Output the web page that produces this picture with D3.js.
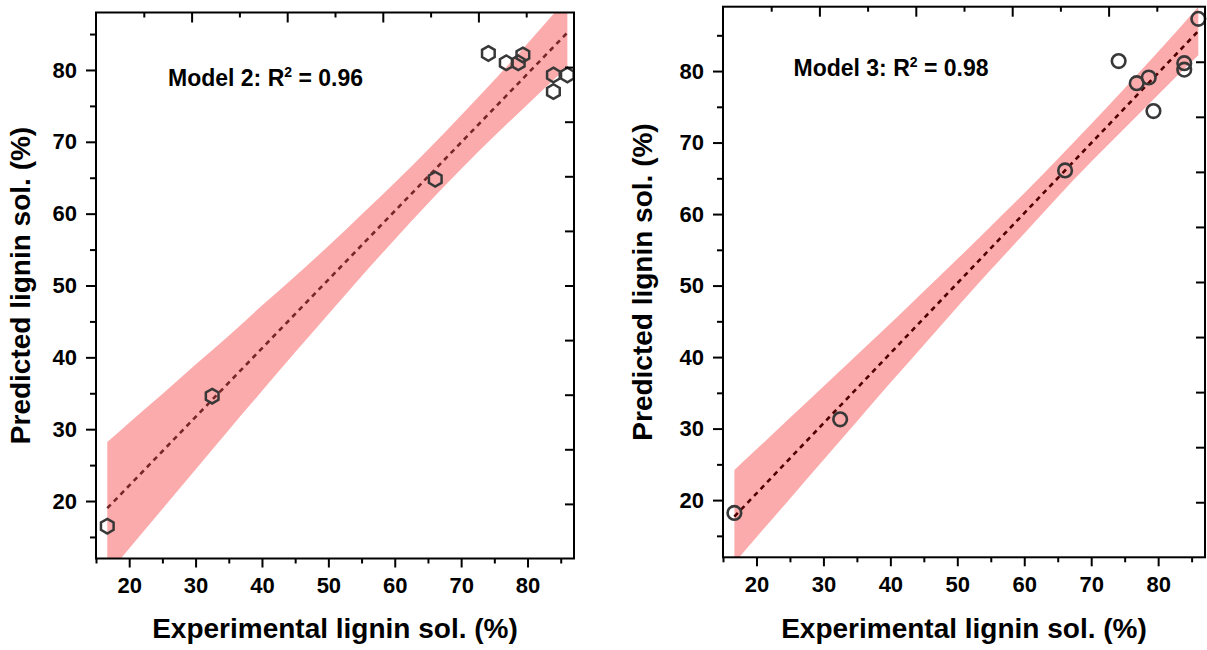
<!DOCTYPE html>
<html>
<head>
<meta charset="utf-8">
<script src="https://cdn.jsdelivr.net/npm/d3@7"></script>
<style>
  html, body { margin: 0; padding: 0; background: #fff; }
  svg { display: block; font-family: "Liberation Sans", Arial, sans-serif; font-weight: bold; }
</style>
</head>
<body>
<svg id="chart" width="1207" height="650"></svg>
<script>
// Experimental vs. predicted lignin solubilisation (%) for two models
const expX       = [16.7, 32.5, 66.1, 74.1, 76.8, 78.6, 79.3, 83.9, 83.9, 86.0];
const model2Pred = [16.5, 34.6, 64.8, 82.3, 81.0, 81.0, 82.1, 79.3, 77.0, 79.3];
const model3Pred = [18.2, 31.3, 66.1, 81.4, 78.3, 79.1, 74.4, 81.1, 80.2, 87.3];

// Linear fit lines (end points)
const fitX      = [16.7, 86.0];
const model2Fit = [19.0, 85.2];
const model3Fit = [17.7, 85.6];

// 95% confidence bands of the fits
const bandX       = [16.7, 20, 25, 30, 35, 40, 45, 50, 55, 60, 65, 70, 75, 80, 86.0];
const model2Lower = [9.7, 13.4, 18.9, 24.4, 29.9, 35.3, 40.7, 46.0, 51.3, 56.4, 61.4, 66.2, 70.8, 75.2, 80.4];
const model2Upper = [28.2, 30.9, 34.9, 39.0, 43.0, 47.2, 51.3, 55.5, 59.9, 64.3, 68.9, 73.7, 78.6, 83.7, 90.0];
const model3Lower = [11.2, 14.8, 20.2, 25.6, 31.0, 36.4, 41.7, 47.0, 52.2, 57.3, 62.4, 67.3, 72.0, 76.7, 82.2];
const model3Upper = [24.2, 27.1, 31.5, 35.9, 40.3, 44.7, 49.2, 53.7, 58.3, 62.9, 67.7, 72.6, 77.6, 82.7, 89.0];

// Axis ticks and labels
const xMajor = [20, 30, 40, 50, 60, 70, 80];
const xMinor = [15, 25, 35, 45, 55, 65, 75, 85];
const yMajor = [20, 30, 40, 50, 60, 70, 80];
const yMinor = [15, 25, 35, 45, 55, 65, 75, 85];
const xTitle = "Experimental lignin sol. (%)";
const yTitle = "Predicted lignin sol. (%)";

const svg = d3.select("#chart");

const panels = [
  { id: "m2", left: 96, right: 574, top: 12.5, bottom: 558.5,
    xDom: [15, 87], yDom: [12, 88],
    pred: model2Pred, fit: model2Fit, lower: model2Lower, upper: model2Upper,
    marker: "hex", lineColor: "#3a3a3a",
    label: "Model 2: R", r2: "0.96", labelX: 168, labelY: 86,
    yTitleX: 30 },
  { id: "m3", left: 723, right: 1205, top: 6.7, bottom: 557.3,
    xDom: [15, 87], yDom: [12, 89],
    pred: model3Pred, fit: model3Fit, lower: model3Lower, upper: model3Upper,
    marker: "circle", lineColor: "#000000",
    label: "Model 3: R", r2: "0.98", labelX: 793.5, labelY: 76,
    yTitleX: 652 }
];

function hexPath(r) {
  // pointy-top hexagon
  const pts = d3.range(6).map(i => {
    const a = Math.PI / 180 * (60 * i - 90);
    return [r * Math.cos(a), r * Math.sin(a)];
  });
  return "M" + pts.map(p => p.join(",")).join("L") + "Z";
}

panels.forEach(p => {
  const x = d3.scaleLinear().domain(p.xDom).range([p.left, p.right]);
  const y = d3.scaleLinear().domain(p.yDom).range([p.bottom, p.top]);
  const g = svg.append("g");

  svg.append("clipPath").attr("id", "clip-" + p.id)
    .append("rect")
    .attr("x", p.left).attr("y", p.top)
    .attr("width", p.right - p.left).attr("height", p.bottom - p.top);

  const plot = g.append("g").attr("clip-path", `url(#clip-${p.id})`);

  // markers
  const pts = expX.map((v, i) => [v, p.pred[i]]);
  if (p.marker === "hex") {
    g.append("g").selectAll("path").data(pts).join("path")
      .attr("d", hexPath(7.3))
      .attr("transform", d => `translate(${x(d[0])},${y(d[1])})`)
      .attr("fill", "none").attr("stroke", "#383838").attr("stroke-width", 2.5);
  } else {
    g.append("g").selectAll("circle").data(pts).join("circle")
      .attr("cx", d => x(d[0])).attr("cy", d => y(d[1])).attr("r", 6.8)
      .attr("fill", "none").attr("stroke", "#383838").attr("stroke-width", 2.6);
  }

  // dashed fit line
  plot.append("path")
    .datum(fitX.map((v, i) => [v, p.fit[i]]))
    .attr("d", d3.line().x(d => x(d[0])).y(d => y(d[1])))
    .attr("fill", "none").attr("stroke", p.lineColor)
    .attr("stroke-width", 2.6).attr("stroke-dasharray", "5 4.5");

  // confidence band, translucent over markers and line
  const band = bandX.map((v, i) => ({ x: v, lo: p.lower[i], hi: p.upper[i] }));
  plot.append("path")
    .datum(band)
    .attr("d", d3.area().curve(d3.curveMonotoneX)
      .x(d => x(d.x)).y0(d => y(d.lo)).y1(d => y(d.hi)))
    .attr("fill", "rgb(242,0,0)").attr("fill-opacity", 0.33);

  // bottom axis (outward ticks)
  const axB = g.append("g").attr("transform", `translate(0,${p.bottom})`);
  axB.call(d3.axisBottom(x).tickValues(xMajor).tickSizeInner(9).tickSizeOuter(0).tickPadding(10));
  axB.append("g").call(d3.axisBottom(x).tickValues(xMinor).tickSize(5).tickFormat(""));
  // left axis (outward ticks)
  const axL = g.append("g").attr("transform", `translate(${p.left},0)`);
  axL.call(d3.axisLeft(y).tickValues(yMajor).tickSizeInner(10).tickSizeOuter(0).tickPadding(9));
  axL.append("g").call(d3.axisLeft(y).tickValues(yMinor).tickSize(6).tickFormat(""));

  // top and right axes: ten equal divisions, inward ticks, no labels
  const tx = d3.scaleLinear().domain([0, 10]).range([p.left, p.right]);
  const ty = d3.scaleLinear().domain([0, 10]).range([p.bottom, p.top]);
  const axT = g.append("g").attr("transform", `translate(0,${p.top})`);
  axT.call(d3.axisTop(tx).tickValues([2, 4, 6, 8]).tickSize(-10).tickFormat(""));
  axT.append("g").call(d3.axisTop(tx).tickValues([1, 3, 5, 7, 9]).tickSize(-5).tickFormat(""));
  const axR = g.append("g").attr("transform", `translate(${p.right},0)`);
  axR.call(d3.axisRight(ty).tickValues(d3.range(1, 10)).tickSize(-9).tickFormat(""));

  g.selectAll(".domain").remove();
  g.selectAll(".tick line").attr("stroke", "#000").attr("stroke-width", 2);
  g.selectAll(".tick text")
    .attr("fill", "#000")
    .style("font-size", "22px")
    .style("font-family", "'Liberation Sans', Arial, sans-serif")
    .style("font-weight", "bold");

  // frame
  g.append("rect")
    .attr("x", p.left).attr("y", p.top)
    .attr("width", p.right - p.left).attr("height", p.bottom - p.top)
    .attr("fill", "none").attr("stroke", "#000").attr("stroke-width", 2);

  // annotation
  const t = g.append("text").attr("x", p.labelX).attr("y", p.labelY)
    .style("font-size", "23px").attr("fill", "#000");
  t.append("tspan").text(p.label);
  t.append("tspan").attr("dy", -9).style("font-size", "14px").text("2");
  t.append("tspan").attr("dy", 9).text(" = " + p.r2);

  // axis titles
  g.append("text")
    .attr("x", (p.left + p.right) / 2).attr("y", 638)
    .attr("text-anchor", "middle").style("font-size", "28px").attr("fill", "#000")
    .text(xTitle);
  g.append("text")
    .attr("transform", `translate(${p.yTitleX},${(p.top + p.bottom) / 2}) rotate(-90)`)
    .attr("text-anchor", "middle").style("font-size", "28px").attr("fill", "#000")
    .text(yTitle);
});
</script>
</body>
</html>
